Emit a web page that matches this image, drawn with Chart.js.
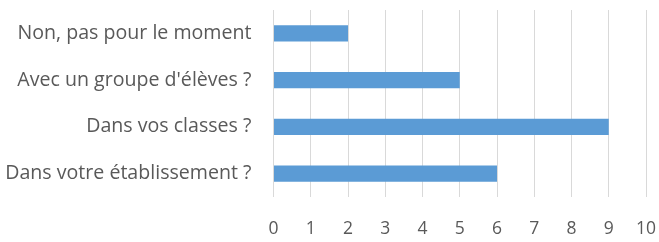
<!DOCTYPE html>
<html>
  <head>
    <meta charset="utf-8">
    <title>Bar chart</title>
    <script src="https://cdn.jsdelivr.net/npm/chart.js@4/dist/chart.umd.min.js"></script>
    <style>
      html, body { margin: 0; padding: 0; background: #ffffff; }
      #wrap { width: 659px; height: 242px; }
    </style>
  </head>
  <body>
    <div id="wrap"><canvas id="canvas" width="659" height="242"></canvas></div>
    <script>
      var categories = ["Non, pas pour le moment", "Avec un groupe d'élèves ?", "Dans vos classes ?", "Dans votre établissement ?"];
      var answers = [2, 5, 9, 6];
      var xTicks = [0, 1, 2, 3, 4, 5, 6, 7, 8, 9, 10];

      var ctx = document.getElementById('canvas').getContext('2d');
      var myChart = new Chart(ctx, {
        type: "bar",
        data: {
          labels: categories,
          datasets: [{
            data: answers,
            backgroundColor: "#5b9bd5",
            borderWidth: 0,
            categoryPercentage: 1,
            barPercentage: 0.343
          }]
        },
        options: {
          indexAxis: 'y',
          responsive: false,
          animation: false,
          layout: { padding: { top: 10, right: 13, left: 0, bottom: 0 } },
          plugins: { legend: { display: false }, tooltip: { enabled: false } },
          scales: {
            x: {
              min: xTicks[0],
              max: xTicks[xTicks.length - 1],
              afterBuildTicks: function(axis) {
                axis.ticks = xTicks.map(function(v) { return { value: v }; });
              },
              afterFit: function(axis) {
                axis.height = 45;
                axis.paddingLeft = 0;
                axis.paddingRight = 0;
              },
              border: { display: false },
              grid: { color: "#d9d9d9", lineWidth: 1, drawTicks: false },
              ticks: {
                color: "#595959",
                padding: 22,
                font: { family: "'Open Sans', sans-serif", size: 17.5 }
              }
            },
            y: {
              afterFit: function(axis) {
                axis.width = 273.5;
                axis.paddingTop = 0;
                axis.paddingBottom = 0;
              },
              border: { display: false },
              grid: { display: false, drawTicks: false },
              ticks: {
                color: "#595959",
                padding: 22,
                font: { family: "'Open Sans', sans-serif", size: 19.6 }
              }
            }
          }
        }
      });
    </script>
  </body>
</html>
